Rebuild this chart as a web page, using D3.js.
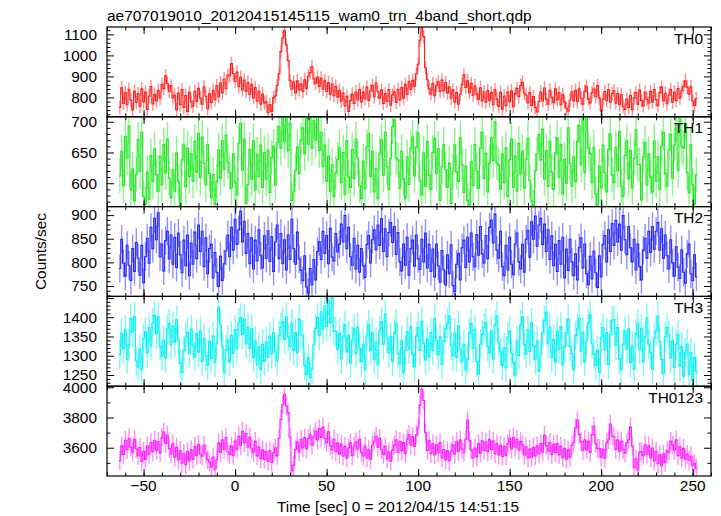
<!DOCTYPE html>
<html><head><meta charset="utf-8">
<script src="https://cdn.jsdelivr.net/npm/d3@7"></script>
<style>body{margin:0;background:#fff} svg{display:block} text{font-family:"Liberation Sans",Arial,Helvetica,sans-serif;fill:#000}</style>
</head><body><svg id="c" width="721" height="516"></svg>
<script>
const title = "ae707019010_20120415145115_wam0_trn_4band_short.qdp";
const xLabel = "Time [sec] 0 = 2012/04/15 14:51:15";
const yLabel = "Counts/sec";
const bands = ["TH0","TH1","TH2","TH3","TH0123"];
const tStart = -63, binSize = 1;   // bin centres: -63, -62, ... 252 s
const xTickLabels = [-50,0,50,100,150,200,250];
const yTickLabels = [[800,900,1000,1100],[600,650,700],[750,800,850,900],[1250,1300,1350,1400],[3600,3800,4000]];
const errHalf = [32,28,30,38,62];   // typical 1-sigma error bar per band (counts/sec)

const th0 = [
752,846,771,823,765,839,788,741,829,776,
818,758,841,779,826,743,806,852,769,815,
783,834,796,861,842,903,866,828,857,798,
812,742,821,765,838,752,809,734,824,779,
758,829,781,843,797,768,851,806,746,817,
776,834,789,857,803,869,821,888,842,907,
902,961,914,876,921,851,897,836,883,829,
871,814,862,798,847,782,829,768,816,774,
781,728,766,734,798,807,858,912,1018,1083,
1118,1049,976,881,839,874,821,879,836,865,
828,884,843,901,918,946,889,866,897,852,
892,839,879,828,871,816,864,808,853,801,
834,782,821,759,806,733,784,816,772,826,
788,838,779,826,794,849,786,832,857,803,
869,827,796,836,772,818,781,837,763,812,
827,776,839,788,847,796,862,814,876,838,
881,853,912,958,1072,1131,1089,941,884,841,
817,867,808,858,874,829,883,832,871,821,
851,796,836,779,823,768,815,862,909,848,
879,823,867,811,856,817,792,846,783,827,
778,832,786,823,765,838,792,757,825,744,
807,761,826,780,832,756,818,843,803,857,
872,821,811,774,823,762,804,752,731,781,
826,783,845,792,768,834,799,775,841,788,
823,765,815,778,749,736,788,827,783,834,
780,841,796,768,829,853,792,774,823,840,
803,857,797,736,791,828,784,837,777,818,
832,773,818,765,814,757,743,792,753,809,
742,797,823,768,835,785,760,826,791,774,
829,778,837,790,761,823,849,783,820,770,
812,838,777,826,785,842,797,833,851,879,
849,816,852,783,762,795];

const th1 = [
612,652,596,676,641,693,589,623,571,614,
671,619,683,578,566,618,574,645,603,656,
614,587,644,598,663,617,672,608,576,622,
587,649,603,564,638,662,594,657,611,648,
603,668,618,681,609,675,632,597,663,616,
576,614,566,603,654,608,669,622,678,635,
617,592,648,601,581,665,697,621,672,567,
598,655,606,669,589,647,611,662,593,650,
606,654,585,642,660,597,666,692,657,705,
667,710,653,698,572,586,621,659,616,670,
690,648,706,663,711,657,702,670,709,653,
683,627,662,603,644,587,630,578,617,639,
658,601,650,582,669,610,593,655,607,672,
641,596,575,636,591,659,680,611,652,586,
624,575,648,670,613,683,627,590,640,692,
703,641,638,592,652,607,575,643,598,657,
675,612,659,682,604,581,649,595,668,613,
590,650,673,616,656,572,627,663,622,593,
633,567,619,662,618,603,674,630,585,628,
572,563,635,596,663,620,592,657,683,608,
649,586,633,674,637,700,633,629,590,648,
601,657,578,638,672,593,644,587,665,615,
652,592,639,673,604,571,562,620,648,679,
638,688,607,653,595,668,618,590,649,674,
610,663,582,639,600,690,632,595,643,603,
668,694,630,707,617,712,657,648,601,659,
583,563,628,592,662,617,586,655,680,614,
601,659,620,684,595,578,645,668,607,653,
592,640,687,630,630,573,643,666,597,648,
610,586,669,603,643,590,660,683,616,595,
654,679,608,662,695,621,706,660,657,698,
617,584,663,597,566,614];

const th2 = [
787,849,798,771,836,794,762,829,781,842,
809,773,836,757,812,851,798,874,829,893,
848,905,812,839,782,846,866,807,858,796,
853,789,862,816,778,847,793,858,772,841,
796,864,808,879,823,866,791,852,776,829,
838,767,821,779,749,813,762,797,824,858,
812,874,826,891,838,869,908,843,887,819,
861,797,852,786,847,803,869,814,788,856,
809,867,802,854,781,843,879,808,861,797,
848,784,858,806,891,829,796,864,807,783,
761,814,748,736,787,752,806,763,823,844,
806,866,819,857,797,872,811,803,861,822,
838,881,843,899,829,874,812,794,851,786,
836,779,829,793,768,838,857,799,848,869,
827,879,836,892,823,871,812,863,884,842,
876,817,863,801,782,839,794,853,773,829,
847,792,858,808,785,849,801,862,788,838,
781,828,769,839,793,758,825,784,752,816,
776,837,751,738,796,819,763,831,847,789,
853,801,862,812,791,859,815,876,818,799,
857,808,874,889,841,902,826,809,866,791,
772,836,784,853,796,774,839,862,801,786,
838,779,849,868,811,886,849,898,834,879,
893,838,881,823,869,806,856,793,838,781,
846,796,853,767,828,783,849,801,772,818,
763,831,852,788,839,776,753,813,765,824,
778,747,814,769,838,857,801,869,823,882,
836,889,843,881,826,899,848,816,876,831,
801,849,784,839,791,763,826,851,809,866,
821,876,828,866,884,826,871,809,858,814,
786,848,799,771,833,790,766,826,779,756,
818,839,776,761,816,769];

const th3 = [
1303,1359,1318,1368,1291,1329,1397,1361,1402,1287,
1271,1318,1264,1345,1362,1307,1373,1326,1386,1404,
1357,1401,1325,1299,1341,1294,1369,1384,1329,1377,
1335,1394,1341,1280,1257,1314,1348,1361,1306,1369,
1327,1297,1358,1309,1364,1285,1345,1300,1275,1338,
1293,1351,1282,1333,1426,1379,1324,1256,1315,1341,
1284,1353,1306,1368,1319,1386,1399,1355,1396,1331,
1374,1319,1370,1294,1339,1277,1323,1264,1330,1285,
1336,1296,1351,1305,1360,1310,1287,1353,1374,1388,
1342,1401,1349,1325,1384,1314,1360,1307,1395,1354,
1354,1275,1251,1296,1243,1266,1328,1371,1399,1352,
1414,1369,1429,1377,1444,1386,1452,1364,1363,1317,
1359,1292,1348,1380,1310,1353,1281,1339,1371,1306,
1374,1319,1285,1330,1264,1354,1381,1314,1360,1290,
1335,1277,1366,1389,1330,1408,1346,1307,1349,1286,
1358,1384,1306,1279,1339,1256,1314,1363,1317,1376,
1305,1271,1351,1374,1314,1390,1332,1289,1344,1297,
1360,1314,1396,1339,1302,1349,1277,1338,1370,1384,
1403,1326,1300,1359,1296,1378,1317,1285,1330,1264,
1291,1359,1384,1319,1368,1285,1252,1330,1355,1373,
1386,1324,1307,1364,1292,1380,1403,1334,1310,1275,
1321,1269,1348,1364,1306,1282,1250,1339,1301,1380,
1401,1329,1305,1368,1311,1386,1326,1290,1339,1259,
1304,1360,1391,1413,1331,1374,1295,1343,1284,1364,
1317,1376,1276,1324,1359,1395,1324,1306,1264,1353,
1370,1398,1312,1361,1284,1339,1384,1406,1331,1304,
1275,1314,1257,1348,1373,1315,1360,1277,1355,1390,
1394,1327,1373,1292,1264,1330,1364,1317,1369,1282,
1325,1266,1358,1383,1316,1371,1284,1349,1398,1330,
1307,1265,1346,1364,1403,1336,1290,1254,1350,1373,
1354,1294,1339,1269,1330,1355,1272,1324,1247,1309,
1330,1251,1308,1236,1296,1259];

const th0123 = [
3515,3612,3556,3649,3587,3663,3604,3571,3656,3593,
3548,3602,3509,3576,3523,3611,3557,3634,3573,3649,
3582,3641,3566,3667,3704,3628,3683,3594,3559,3627,
3538,3604,3519,3582,3497,3563,3488,3574,3512,3586,
3523,3609,3547,3623,3558,3544,3616,3563,3521,3506,
3472,3539,3454,3521,3633,3568,3652,3589,3667,3572,
3556,3613,3548,3642,3589,3676,3613,3709,3632,3694,
3603,3671,3592,3567,3642,3546,3604,3528,3587,3523,
3574,3509,3582,3503,3567,3598,3546,3663,3787,3884,
3953,3876,3832,3669,3447,3483,3588,3637,3571,3656,
3599,3667,3593,3661,3686,3617,3673,3709,3652,3727,
3668,3736,3661,3633,3707,3612,3586,3658,3573,3632,
3557,3624,3546,3609,3533,3598,3632,3547,3613,3639,
3592,3656,3568,3546,3611,3533,3587,3522,3618,3643,
3676,3604,3662,3587,3556,3609,3528,3573,3511,3584,
3617,3653,3569,3642,3578,3634,3561,3657,3688,3616,
3673,3609,3686,3731,3882,3987,3913,3699,3582,3647,
3561,3628,3552,3619,3567,3634,3533,3588,3519,3581,
3512,3576,3618,3557,3643,3576,3652,3589,3567,3656,
3783,3649,3586,3533,3598,3539,3627,3564,3646,3582,
3637,3573,3656,3588,3644,3561,3627,3553,3616,3542,
3609,3548,3627,3663,3592,3668,3604,3656,3583,3642,
3619,3553,3606,3532,3591,3537,3602,3546,3613,3559,
3627,3571,3682,3614,3579,3633,3556,3622,3568,3627,
3552,3609,3533,3597,3524,3586,3538,3617,3633,3732,
3783,3688,3639,3582,3653,3586,3644,3569,3687,3741,
3628,3596,3594,3537,3589,3531,3633,3652,3757,3676,
3673,3589,3652,3577,3643,3586,3564,3634,3653,3737,
3612,3468,3527,3453,3572,3574,3546,3619,3557,3612,
3533,3598,3512,3577,3494,3553,3481,3558,3503,3582,
3567,3644,3619,3583,3652,3548,3606,3531,3597,3524,
3556,3517,3544,3482,3497,3463];

const series = [th0, th1, th2, th3, th0123];

// ---- layout / style config ----
const colors = ["#ff1c1c","#1ee81e","#2424ff","#00f2f2","#ff1cff"];
const yDomains = [[708,1135],[562,708],[728,918],[1221,1454],[3413,4007]];
const yMajor = [100,50,50,50,200], yMinor = [20,10,10,10,100];
const xDomain = [-70,260];
const L = 107, R = 711, T = 27, B = 476;
const ph = (B - T) / bands.length;
const FONT = 15.4;

const svg = d3.select("#c");
const x = d3.scaleLinear().domain(xDomain).range([L, R]);
const xMaj = d3.range(-50, 251, 50), xMin = d3.range(-70, 261, 10);

svg.append("text").attr("x", 107).attr("y", 20.5).attr("font-size", 15.5).text(title);

bands.forEach((name, i) => {
  const top = T + i * ph, bot = top + ph;
  const y = d3.scaleLinear().domain(yDomains[i]).range([bot, top]);
  const data = series[i].map((v, k) => ({ t: tStart + k * binSize, v }));
  const e = errHalf[i];
  const cid = "clip" + i;
  svg.append("clipPath").attr("id", cid).append("rect")
    .attr("x", L).attr("y", top).attr("width", R - L).attr("height", ph);
  const dg = svg.append("g").attr("clip-path", `url(#${cid})`);
  dg.selectAll("line.err").data(data).join("line").attr("class", "err")
    .attr("x1", d => x(d.t)).attr("x2", d => x(d.t))
    .attr("y1", d => y(d.v - e)).attr("y2", d => y(d.v + e))
    .attr("stroke", colors[i]).attr("stroke-opacity", 0.5).attr("stroke-width", 1.4);
  const pts = [{ t: data[0].t - binSize / 2, v: data[0].v }, ...data,
               { t: data[data.length - 1].t + binSize / 2, v: data[data.length - 1].v }];
  const line = d3.line().x(d => x(d.t)).y(d => y(d.v)).curve(d3.curveStep);
  dg.append("path").attr("d", line(pts)).attr("fill", "none")
    .attr("stroke", colors[i]).attr("stroke-width", 1.1);

  const [d0, d1] = yDomains[i];
  const yMaj = d3.range(Math.ceil(d0 / yMajor[i]) * yMajor[i], d1 + 0.001, yMajor[i]);
  const yMin = d3.range(Math.ceil(d0 / yMinor[i]) * yMinor[i], d1 + 0.001, yMinor[i]).filter(v => v % yMajor[i] !== 0);
  const ax = (gen, vals, size, tx, ty) => {
    const g = svg.append("g").attr("transform", `translate(${tx},${ty})`)
      .call(gen.tickValues(vals).tickSize(size).tickFormat(""));
    g.select(".domain").remove();
    g.selectAll("line").attr("stroke", "#000").attr("stroke-width", 1);
  };
  ax(d3.axisRight(y), yMaj, 7, L, 0);
  ax(d3.axisRight(y), yMin, 3.5, L, 0);
  ax(d3.axisLeft(y), yMaj, 7, R, 0);
  ax(d3.axisLeft(y), yMin, 3.5, R, 0);
  ax(d3.axisBottom(x), xMaj, 7, 0, top);
  ax(d3.axisBottom(x), xMin, 3.5, 0, top);
  ax(d3.axisTop(x), xMaj, 7, 0, bot);
  ax(d3.axisTop(x), xMin, 3.5, 0, bot);

  svg.append("rect").attr("x", L).attr("y", top).attr("width", R - L).attr("height", ph)
    .attr("fill", "none").attr("stroke", "#000").attr("stroke-width", 1.2);

  svg.append("g").selectAll("text").data(yTickLabels[i]).join("text")
    .attr("x", 97).attr("y", d => y(d) + 5.3).attr("text-anchor", "end")
    .attr("font-size", FONT).text(d => d);

  svg.append("text").attr("x", 703).attr("y", top + 16.5).attr("text-anchor", "end")
    .attr("font-size", FONT).text(name);

  if (i === bands.length - 1) {
    svg.append("g").selectAll("text").data(xTickLabels).join("text")
      .attr("x", d => x(d)).attr("y", 491).attr("text-anchor", "middle")
      .attr("font-size", FONT).text(d => d < 0 ? "\u2212" + Math.abs(d) : d);
  }
});

svg.append("text").attr("x", 398).attr("y", 511.5).attr("text-anchor", "middle")
  .attr("font-size", FONT).text(xLabel);
svg.append("text").attr("transform", `translate(46,${(T + B) / 2}) rotate(-90)`)
  .attr("text-anchor", "middle").attr("font-size", FONT).text(yLabel);
</script></body></html>
